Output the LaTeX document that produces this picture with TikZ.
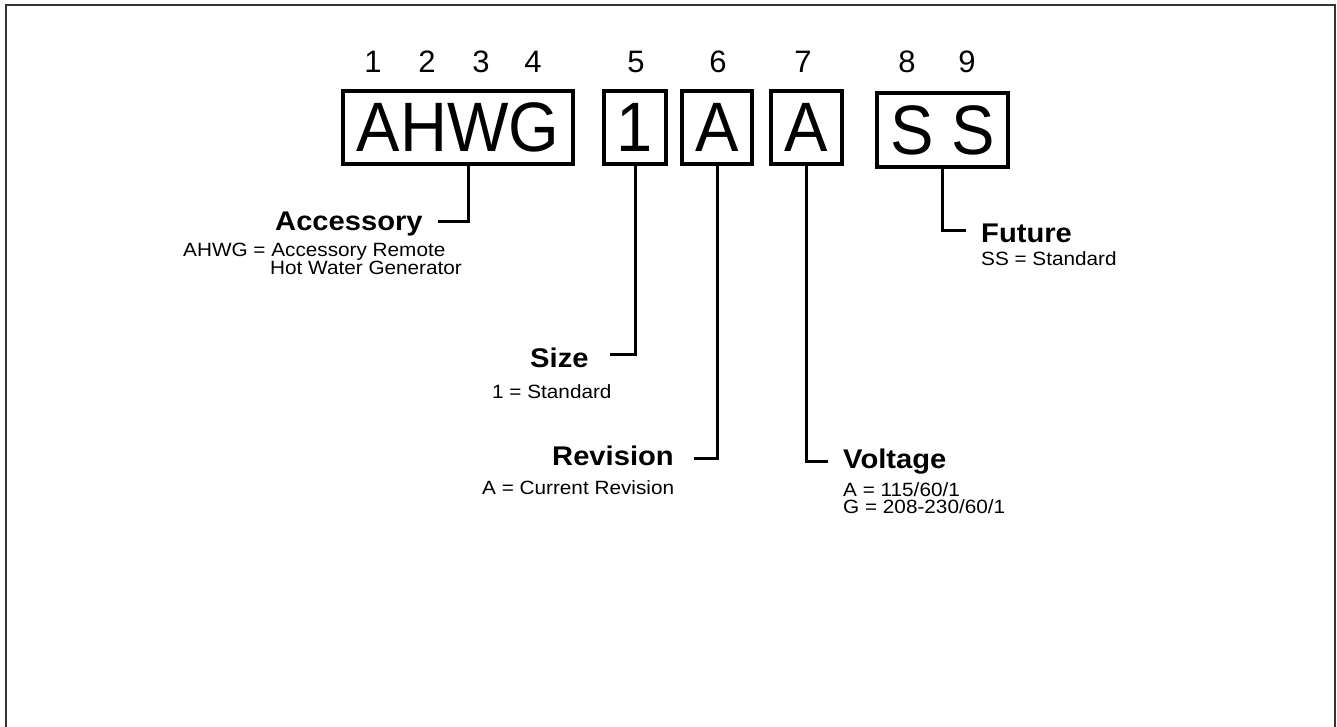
\documentclass[tikz,border=0pt]{standalone}
\usepackage{fontspec}
\setmainfont{Liberation Sans}
\newfontfamily\boxfont[FakeStretch=0.93]{Liberation Sans}
\newfontfamily\labelfont[FakeStretch=1.08]{Liberation Sans}
\tikzset{
  digit/.style={inner sep=0pt, font=\fontsize{31}{31}\selectfont},
  codebox/.style={draw, line width=3.2pt, inner sep=0pt, minimum height=73pt,
    font=\boxfont\fontsize{70}{70}\selectfont},
  title/.style={anchor=base west, inner sep=0pt,
    font=\labelfont\fontsize{27}{27}\selectfont\bfseries},
  note/.style={anchor=base west, inner sep=0pt,
    font=\labelfont\fontsize{19.2}{19.2}\selectfont},
  lead/.style={line width=3pt},
  frame/.style={line width=1.8pt, black!80},
}
\begin{document}
\begin{tikzpicture}[x=1pt,y=-1pt]
  \useasboundingbox (0,0) rectangle (1337,727);
  \draw[frame] (6,727) -- (6,5) -- (1335,5) -- (1335,727);
  % digit positions
  \node[digit] (d1) at (373,62) {1};
  \node[digit] (d2) at (427,62) {2};
  \node[digit] (d3) at (481,62) {3};
  \node[digit] (d4) at (533,62) {4};
  \node[digit] (d5) at (636,62) {5};
  \node[digit] (d6) at (718,62) {6};
  \node[digit] (d7) at (803,62) {7};
  \node[digit] (d8) at (907,62) {8};
  \node[digit] (d9) at (967,62) {9};
  % code boxes
  \node[codebox, minimum width=230pt] (bAHWG) at (458,127.5) {AHWG};
  \node[codebox, minimum width=62pt] (b1) at (635,127.5) {1};
  \node[codebox, minimum width=70pt] (bA1) at (717,127.5) {A};
  \node[codebox, minimum width=71pt] (bA2) at (806.5,127.5) {A};
  \node[codebox, minimum width=131pt, minimum height=74pt] (bSS) at (942.5,130) {S S};
  % titles and notes
  \node[title] (accessory) at (275,230) {Accessory};
  \node[note] (accessoryA) at (183,256) {AHWG = Accessory Remote};
  \node[note] (accessoryB) at (270,274) {Hot Water Generator};
  \node[title] (size) at (530,367) {Size};
  \node[note] (sizeA) at (492,398) {1 = Standard};
  \node[title] (revision) at (552,465) {Revision};
  \node[note] (revisionA) at (482,494) {A = Current Revision};
  \node[title] (voltage) at (843,468) {Voltage};
  \node[note] (voltageA) at (843,496) {A = 115/60/1};
  \node[note] (voltageB) at (843,513) {G = 208-230/60/1};
  \node[title] (future) at (981,242) {Future};
  \node[note] (futureA) at (981,265) {SS = Standard};
  % leaders
  \draw[lead] ([xshift=10pt]bAHWG.south) |- ([shift={(15pt,8pt)}]accessory.base east);
  \draw[lead] (b1.south) |- ([shift={(21pt,13pt)}]size.base east);
  \draw[lead] (bA1.south) |- ([shift={(20pt,7pt)}]revision.base east);
  \draw[lead] (bA2.south) |- ([shift={(-15pt,7pt)}]voltage.base west);
  \draw[lead] (bSS.south) |- ([shift={(-15pt,11pt)}]future.base west);
\end{tikzpicture}
\end{document}
